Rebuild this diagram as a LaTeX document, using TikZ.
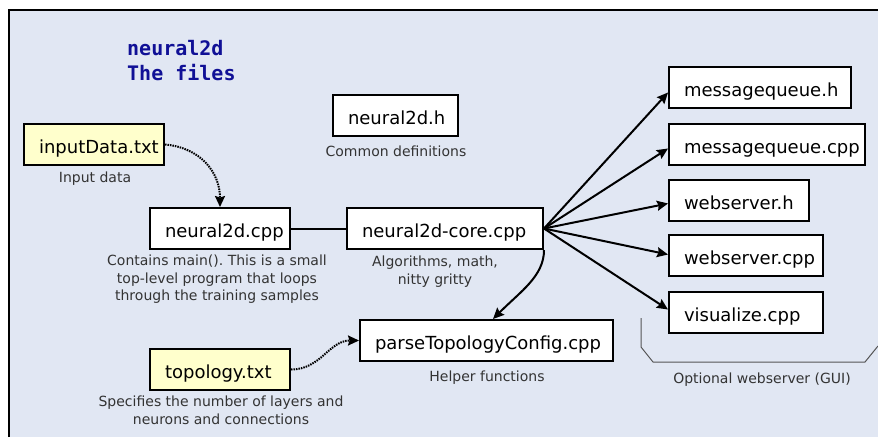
\documentclass[tikz,border=0pt]{standalone}
\usepackage{fontspec}
\setmainfont{DejaVu Sans}
\newfontfamily\titlefont{DejaVu Sans Mono}
\usetikzlibrary{arrows.meta}
\definecolor{bgblue}{RGB}{225,231,243}
\definecolor{fileyellow}{RGB}{255,255,204}
\definecolor{titleblue}{RGB}{16,16,150}
\definecolor{captiongray}{RGB}{51,51,51}
\definecolor{bracketgray}{RGB}{85,85,85}
\newcommand{\fname}[2]{\makebox[#1][l]{#2}}
\frenchspacing
\begin{document}
\begin{tikzpicture}[x=1pt,y=-1pt,
  filebox/.style={draw=black, line width=2pt, fill=white, anchor=north west, minimum height=41pt, inner xsep=15pt, inner ysep=0pt, text height=18pt, text depth=0pt, font=\fontsize{18}{21}\selectfont},
  databox/.style={filebox, fill=fileyellow},
  caption/.style={text=captiongray, font=\fontsize{14}{17.5}\selectfont, inner sep=0pt},
  link/.style={line width=2pt},
  arrowlink/.style={line width=2pt, -{Stealth[length=11pt,width=10pt,inset=1.5pt]}},
  dotlink/.style={arrowlink, dash pattern=on 1.5pt off 1pt},
]
\useasboundingbox (0,0) rectangle (878,437);
\fill[bgblue] (9,10) rectangle (878,437);
\draw[line width=2.5pt] (9,437) -- (9,10) -- (878,10);

\node[anchor=north west, inner sep=0pt, align=left, text=titleblue, font=\titlefont\bfseries\fontsize{20}{25}\selectfont] (title) at (127,40) {neural2d\\The files};

\node[databox] (inp) at (23,123) {\fname{110pt}{inputData.txt}};
\node[filebox] (cpp) at (149,207) {\fname{110pt}{neural2d.cpp}};
\node[filebox] (hdr) at (332,94) {\fname{95pt}{neural2d.h}};
\node[filebox] (core) at (346,207) {\fname{166pt}{neural2d-core.cpp}};
\node[filebox] (parse) at (359,319) {\fname{223pt}{parseTopologyConfig.cpp}};
\node[databox] (topo) at (149,348) {\fname{110pt}{topology.txt}};
\node[filebox] (mqh) at (668,66) {\fname{152pt}{messagequeue.h}};
\node[filebox] (mqc) at (668,123) {\fname{166pt}{messagequeue.cpp}};
\node[filebox] (wsh) at (668,179) {\fname{110pt}{webserver.h}};
\node[filebox] (wsc) at (668,234) {\fname{124pt}{webserver.cpp}};
\node[filebox] (vis) at (668,291) {\fname{124pt}{visualize.cpp}};

\node[caption, anchor=base] (inpcap) at (95,182) {Input data};
\node[caption, anchor=north, align=center] (cppcap) at (217,255) {Contains main(). This is a small\\top-level program that loops\\through the training samples};
\node[caption, anchor=base] (hdrcap) at (396,156) {Common definitions};
\node[caption, anchor=north, align=center] (corecap) at (435,256) {Algorithms, math,\\nitty gritty};
\node[caption, anchor=base] (parsecap) at (487,381) {Helper functions};
\node[caption, anchor=north, align=center] (topocap) at (221,396) {Specifies the number of layers and\\neurons and connections};
\node[caption, anchor=base] (guicap) at (762,383) {Optional webserver (GUI)};

\draw[link] (cpp.east) -- (core.west);
\draw[dotlink] (inp.east) .. controls +(35,3) and +(0,-35) .. (cpp.north);
\draw[dotlink] (topo.east) .. controls +(30,0) and +(-30,0) .. (parse.west);
\draw[arrowlink] (core.south east) .. controls +(0,26) and +(28,-28) .. ([xshift=6.5pt]parse.north);

\draw[arrowlink] (core.east) -- ([yshift=-5pt]mqh.west);
\draw[arrowlink] (core.east) -- ([yshift=-4pt]mqc.west);
\draw[arrowlink] (core.east) -- ([yshift=-3pt]wsh.west);
\draw[arrowlink] (core.east) -- ([yshift=1pt]wsc.west);
\draw[arrowlink] (core.east) -- ([yshift=3pt]vis.west);

\draw[bracketgray, line width=1pt] (641,318) -- (641,347) -- (653,362) -- (865,362) -- (878,346);
\end{tikzpicture}
\end{document}
